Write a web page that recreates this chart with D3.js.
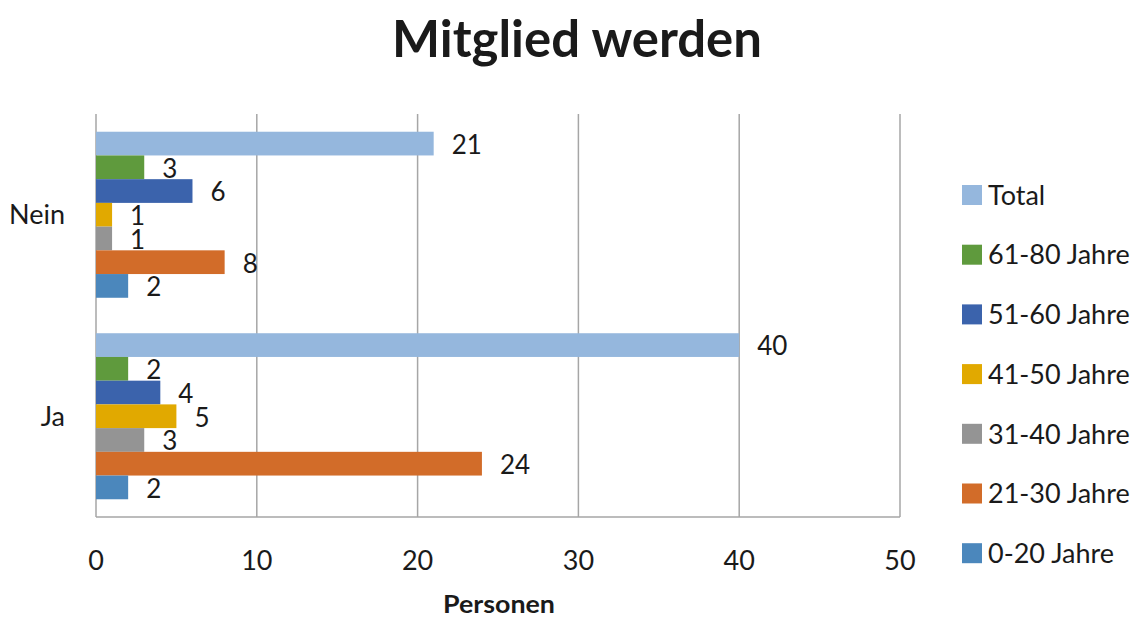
<!DOCTYPE html>
<html><head><meta charset="utf-8">
<script src="https://cdn.jsdelivr.net/npm/d3@7"></script>
<style>body{margin:0;background:#fff}svg{display:block}text{font-family:Lato,"Open Sans",sans-serif;fill:#1a1a1a}</style>
</head><body><svg id="c" width="1134" height="620"></svg>
<script>
const categories = ["Nein", "Ja"];
const seriesNames = ["Total", "61-80 Jahre", "51-60 Jahre", "41-50 Jahre", "31-40 Jahre", "21-30 Jahre", "0-20 Jahre"];
const seriesColors = ["#95B7DD", "#5F9A3D", "#3B63AC", "#E1A900", "#949494", "#D26C29", "#4B87BC"];
const valuesNein = [21, 3, 6, 1, 1, 8, 2];
const valuesJa = [40, 2, 4, 5, 3, 24, 2];
const xTicks = [0, 10, 20, 30, 40, 50];
const title = "Mitglied werden";
const xTitle = "Personen";

const svg = d3.select("#c");
const L = 96, R = 900, T = 114, B = 517;
const x = d3.scaleLinear().domain([0, 50]).range([L, R]);
const y = d3.scaleBand().domain(categories).range([T, B]).paddingInner(0.176).paddingOuter(0.088);
const yi = d3.scaleBand().domain(seriesNames).range([0, y.bandwidth()]).padding(0);
const data = {Nein: valuesNein, Ja: valuesJa};

// gridlines
svg.append("g").selectAll("line").data(xTicks).join("line")
  .attr("x1", d => x(d)).attr("x2", d => x(d)).attr("y1", T).attr("y2", B)
  .attr("stroke", "#a6a6a6").attr("stroke-width", 1.5);
svg.append("line").attr("x1", L).attr("x2", R).attr("y1", B).attr("y2", B)
  .attr("stroke", "#a6a6a6").attr("stroke-width", 1.5);

// bars
categories.forEach(cat => {
  const g = svg.append("g").attr("transform", `translate(0,${y(cat)})`);
  const rows = seriesNames.map((s, i) => ({s, v: data[cat][i], c: seriesColors[i]}));
  g.selectAll("rect").data(rows).join("rect")
    .attr("x", x(0)).attr("y", d => yi(d.s))
    .attr("width", d => x(d.v) - x(0)).attr("height", yi.bandwidth())
    .attr("fill", d => d.c);
  g.selectAll("text").data(rows).join("text")
    .attr("x", d => x(d.v) + 18).attr("y", d => yi(d.s) + yi.bandwidth() / 2 + 1)
    .attr("dy", "0.36em").attr("font-size", 26).text(d => d.v);
});

// axes labels
svg.append("g").selectAll("text").data(xTicks).join("text")
  .attr("x", d => x(d)).attr("y", 570).attr("text-anchor", "middle")
  .attr("font-size", 27).text(d => d);
svg.append("g").selectAll("text").data(categories).join("text")
  .attr("x", 65).attr("y", d => y(d) + y.bandwidth() / 2).attr("dy", "0.36em")
  .attr("text-anchor", "end").attr("font-size", 27).text(d => d);

svg.append("text").attr("x", 499).attr("y", 613).attr("text-anchor", "middle")
  .attr("font-size", 25).attr("font-weight", "bold")
  .attr("textLength", 112).attr("lengthAdjust", "spacingAndGlyphs").text(xTitle);
svg.append("text").attr("x", 577).attr("y", 57).attr("text-anchor", "middle")
  .attr("font-size", 52).attr("font-weight", "bold").attr("fill", "#000")
  .attr("textLength", 370).attr("lengthAdjust", "spacingAndGlyphs").text(title);

// legend
const lg = svg.append("g").selectAll("g").data(seriesNames).join("g")
  .attr("transform", (d, i) => `translate(962,${195 + i * 59.7})`);
lg.append("rect").attr("x", 0).attr("y", -10).attr("width", 20).attr("height", 20)
  .attr("fill", (d, i) => seriesColors[i]);
lg.append("text").attr("x", 26).attr("y", 0).attr("dy", "0.36em").attr("font-size", 27).text(d => d);
</script></body></html>
